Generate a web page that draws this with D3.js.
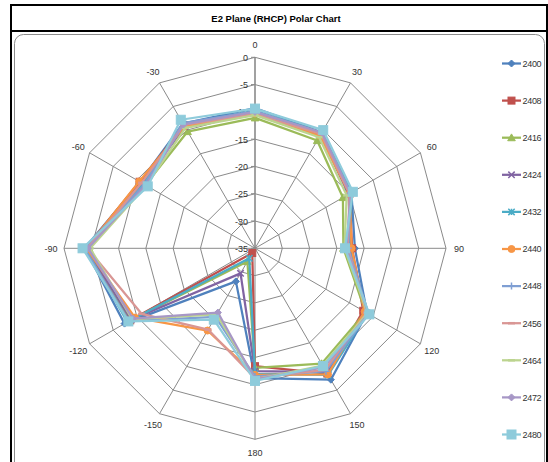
<!DOCTYPE html>
<html><head><meta charset="utf-8">
<script src="https://cdn.jsdelivr.net/npm/d3@7/dist/d3.min.js"></script>
<style>body{margin:0;background:#fff}svg{display:block;font-family:"Liberation Sans",Arial,sans-serif}</style>
</head><body><svg id="c" width="548" height="462"></svg>
<script>
const title = "E2 Plane (RHCP) Polar Chart";
const categories = ["0","30","60","90","120","150","180","-150","-120","-90","-60","-30"];
const radialTicks = [0,-5,-10,-15,-20,-25,-30,-35];
const seriesNames = ["2400","2408","2416","2424","2432","2440","2448","2456","2464","2472","2480"];
const seriesColors = ["#4F81BD","#C0504D","#9BBB59","#8064A2","#4BACC6","#F79646","#7F9FD3","#D99694","#BCD48F","#A797C6","#8ECBDB"];
const seriesMarkers = ["diamond","square","triangle","x","star","circle","plus","dash","dash","diamond","square"];
// values in category order
const v2400 = [-9.3,-10.5,-14.6,-16.7,-11.3,-7.2,-11.2,-28.0,-7.4,-3.8,-10.7,-8.6];
const v2408 = [-10.0,-10.9,-15.0,-17.2,-12.1,-8.5,-13.4,-34.0,-8.6,-4.0,-10.6,-9.0];
const v2416 = [-11.1,-12.2,-16.4,-18.8,-11.6,-10.6,-13.1,-32.2,-8.4,-4.6,-11.8,-10.3];
const v2424 = [-10.2,-11.0,-15.2,-17.5,-11.5,-8.8,-12.5,-29.7,-8.8,-4.2,-11.2,-9.3];
const v2432 = [-9.8,-10.5,-14.5,-17.8,-11.2,-8.2,-12.0,-32.9,-8.0,-3.9,-11.4,-8.7];
const v2440 = [-10.3,-11.2,-15.0,-17.3,-11.8,-8.3,-11.8,-17.6,-9.6,-4.1,-10.5,-9.2];
const v2448 = [-9.9,-10.6,-14.8,-17.9,-11.0,-9.0,-11.5,-20.5,-8.3,-3.7,-11.6,-8.5];
const v2456 = [-10.4,-10.8,-15.0,-18.0,-11.4,-9.3,-11.2,-17.8,-11.0,-4.3,-11.0,-8.9];
const v2464 = [-10.6,-11.5,-15.6,-18.6,-11.2,-10.2,-11.0,-21.0,-9.0,-4.8,-12.0,-9.5];
const v2472 = [-10.0,-10.5,-14.8,-18.2,-11.0,-9.8,-11.0,-21.4,-9.2,-4.4,-11.9,-8.8];
const v2480 = [-9.4,-10.0,-14.3,-18.5,-10.8,-10.1,-10.7,-19.9,-8.2,-3.4,-12.3,-7.8];
const seriesValues = [v2400,v2408,v2416,v2424,v2432,v2440,v2448,v2456,v2464,v2472,v2480];

const svg = d3.select("#c");
const W = 548, H = 462;
// frame
svg.append("rect").attr("x",11).attr("y",5).attr("width",536).attr("height",470)
  .attr("fill","none").attr("stroke","#000").attr("stroke-width",2);
svg.append("line").attr("x1",11).attr("x2",547).attr("y1",31).attr("y2",31)
  .attr("stroke","#000").attr("stroke-width",2);
svg.append("text").attr("x",276).attr("y",21.5).attr("text-anchor","middle")
  .attr("font-size",9.5).attr("font-weight","bold").attr("fill","#000").text(title);
svg.append("rect").attr("x",14.5).attr("y",34.5).attr("width",530).attr("height",440)
  .attr("rx",9).attr("fill","#fff").attr("stroke","#8c8c8c").attr("stroke-width",1);

const cx = 255, cy = 248.3, R = 191;
const r = d3.scaleLinear().domain([-35,0]).range([0,R]);
const a = d3.scaleLinear().domain([0,categories.length]).range([0,2*Math.PI]);
const g = svg.append("g").attr("transform",`translate(${cx},${cy})`);
const pt = (i,val)=>[r(val)*Math.sin(a(i)), -r(val)*Math.cos(a(i))];

// rings
radialTicks.filter(t=>t>-35).forEach(t=>{
  const pts = categories.map((c,i)=>pt(i,t));
  g.append("polygon").attr("points",pts.map(p=>p.join(",")).join(" "))
    .attr("fill","none").attr("stroke","#8a8a8a").attr("stroke-width",1);
});
// spokes
categories.forEach((c,i)=>{
  const p = pt(i,0);
  g.append("line").attr("x1",0).attr("y1",0).attr("x2",p[0]).attr("y2",p[1])
    .attr("stroke", i===0?"#8a8a8a":"#8a8a8a").attr("stroke-width", i===0?1.6:1);
});
// radial tick marks and labels
radialTicks.forEach(t=>{
  g.append("line").attr("x1",-4).attr("x2",0).attr("y1",-r(t)).attr("y2",-r(t))
    .attr("stroke","#8a8a8a");
  g.append("text").attr("x",-7).attr("y",-r(t)+3.5).attr("text-anchor","end")
    .attr("font-size",9).attr("fill","#333").text(t);
});
// category labels
categories.forEach((c,i)=>{
  const ang = a(i), rr = R+13;
  const x = rr*Math.sin(ang), y = -rr*Math.cos(ang);
  g.append("text").attr("x",x).attr("y",y+3.5).attr("text-anchor","middle")
    .attr("font-size",9).attr("fill","#333").text(c);
});

function marker(sel, type, color, size){
  const s = size;
  if(type==="diamond"){
    sel.append("path").attr("d",`M0,${-s}L${s},0L0,${s}L${-s},0Z`).attr("fill",color).attr("stroke",color);
  } else if(type==="square"){
    sel.append("rect").attr("x",-s).attr("y",-s).attr("width",2*s).attr("height",2*s).attr("fill",color).attr("stroke",color);
  } else if(type==="triangle"){
    sel.append("path").attr("d",`M0,${-s}L${s},${s*0.8}L${-s},${s*0.8}Z`).attr("fill",color).attr("stroke",color);
  } else if(type==="x"){
    sel.append("path").attr("d",`M${-s},${-s}L${s},${s}M${-s},${s}L${s},${-s}`).attr("stroke",color).attr("stroke-width",1.5).attr("fill","none");
  } else if(type==="star"){
    sel.append("path").attr("d",`M${-s},${-s}L${s},${s}M${-s},${s}L${s},${-s}M0,${-s}L0,${s}`).attr("stroke",color).attr("stroke-width",1.5).attr("fill","none");
  } else if(type==="circle"){
    sel.append("circle").attr("r",s).attr("fill",color).attr("stroke",color);
  } else if(type==="plus"){
    sel.append("path").attr("d",`M${-s},0L${s},0M0,${-s}L0,${s}`).attr("stroke",color).attr("stroke-width",1.5).attr("fill","none");
  } else if(type==="dash"){
    sel.append("path").attr("d",`M${-s},0L${s},0`).attr("stroke",color).attr("stroke-width",2.5).attr("fill","none");
  }
}
const sizes = {diamond:3.5,square:3.5,triangle:3.8,x:3.2,star:3.2,circle:3.5,plus:3.5,dash:3.5};

const line = d3.lineRadial().angle((d,i)=>a(i)).radius(d=>r(d)).curve(d3.curveLinearClosed);
seriesNames.forEach((name,k)=>{
  const col = seriesColors[k];
  const vals = seriesValues[k];
  g.append("path").attr("d",line(vals)).attr("fill","none").attr("stroke",col)
    .attr("stroke-width",2.25).attr("stroke-linejoin","round");
  const sz = k===10 ? 4.5 : sizes[seriesMarkers[k]];
  vals.forEach((v,i)=>{
    const p = pt(i,v);
    marker(g.append("g").attr("transform",`translate(${p[0]},${p[1]})`), seriesMarkers[k], col, sz);
  });
});

// legend
const lg = svg.append("g");
seriesNames.forEach((name,k)=>{
  const y = 63.5 + k*37.1;
  const col = seriesColors[k];
  lg.append("line").attr("x1",502).attr("x2",521).attr("y1",y).attr("y2",y)
    .attr("stroke",col).attr("stroke-width",2.25);
  const sz = k===10 ? 4.5 : sizes[seriesMarkers[k]];
  marker(lg.append("g").attr("transform",`translate(511.5,${y})`), seriesMarkers[k], col, sz);
  lg.append("text").attr("x",522.5).attr("y",y+3.3).attr("font-size",9).attr("fill","#333")
    .attr("letter-spacing",-0.3).text(name);
});
</script></body></html>
